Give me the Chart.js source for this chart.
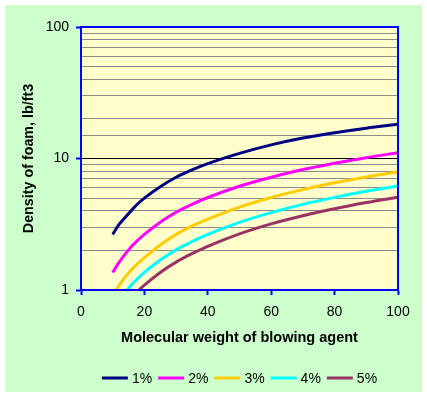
<!DOCTYPE html>
<html><head><meta charset="utf-8">
<script src="https://cdn.jsdelivr.net/npm/chart.js@4.4.1/dist/chart.umd.min.js"></script>
<style>html,body{margin:0;padding:0;background:#fff;overflow:hidden}#wrap{width:427px;height:396px}</style>
</head><body><div id="wrap"><canvas id="c" width="427" height="396"></canvas></div>
<script>
// ---- data ----
const seriesLabels = ['1%', '2%', '3%', '4%', '5%'];
const mw1 = [10, 12, 14, 16, 18, 20, 25, 30, 35, 40, 50, 60, 70, 80, 90, 100];
const dens1 = [2.65, 3.15, 3.58, 4.05, 4.55, 5.0, 6.1, 7.2, 8.2, 9.15, 10.95, 12.7, 14.3, 15.7, 17.0, 18.2];
const mw2 = [10, 12, 14, 16, 18, 20, 25, 30, 35, 40, 50, 60, 70, 80, 90, 100];
const dens2 = [1.36, 1.62, 1.88, 2.15, 2.4, 2.65, 3.28, 3.9, 4.48, 5.05, 6.15, 7.2, 8.25, 9.2, 10.15, 11.05];
const mw3 = [11.1, 12, 14, 16, 18, 20, 25, 30, 35, 40, 50, 60, 70, 80, 90, 100];
const dens3 = [1.0, 1.08, 1.26, 1.43, 1.6, 1.76, 2.2, 2.65, 3.06, 3.46, 4.27, 5.05, 5.8, 6.53, 7.23, 7.92];
const mw4 = [14.6, 16, 18, 20, 25, 30, 35, 40, 50, 60, 70, 80, 90, 100];
const dens4 = [1.0, 1.1, 1.23, 1.36, 1.69, 2.02, 2.33, 2.65, 3.27, 3.88, 4.48, 5.06, 5.63, 6.17];
const mw5 = [18.3, 20, 25, 30, 35, 40, 50, 60, 70, 80, 90, 100];
const dens5 = [1.0, 1.09, 1.36, 1.63, 1.89, 2.15, 2.67, 3.18, 3.67, 4.15, 4.62, 5.08];
const xTickStep = 20;
const yMajorTicks = [1, 10, 100];

// ---- styles ----
const seriesColors = ['#000080', '#FF00FF', '#FFCC00', '#00FFFF', '#993366'];
const FAMILY = '"Liberation Sans", Arial, Helvetica, sans-serif';
const AXIS_BLUE = '#0000FF';

const mwSets = [mw1, mw2, mw3, mw4, mw5];
const densSets = [dens1, dens2, dens3, dens4, dens5];

const isMajor = v => yMajorTicks.some(m => Math.abs(m - v) < 1e-9);

const decorPlugin = {
  id: 'decor',
  beforeDraw(chart) {
    const {ctx, chartArea: a} = chart;
    ctx.save();
    ctx.fillStyle = '#FFFFFF';
    ctx.fillRect(0, 0, chart.width, chart.height);
    ctx.fillStyle = '#CCFFCC';
    ctx.fillRect(5, 5, 417, 387);
    ctx.fillStyle = '#FFFFCC';
    ctx.fillRect(a.left, a.top, a.right - a.left, a.bottom - a.top);
    ctx.restore();
  },
  afterDatasetsDraw(chart) {
    const {ctx, chartArea: a} = chart;
    ctx.save();
    ctx.strokeStyle = AXIS_BLUE;
    ctx.lineWidth = 2;
    ctx.strokeRect(a.left, a.top, a.right - a.left, a.bottom - a.top);
    ctx.restore();
  },
  afterDraw(chart) {
    const {ctx, chartArea: a} = chart;
    const ds = chart.data.datasets;
    ctx.save();
    ctx.font = '14px ' + FAMILY;
    ctx.textBaseline = 'middle';
    ctx.textAlign = 'left';
    const lineLen = 26, gapText = 4, gapItem = 6;
    const widths = ds.map(d => ctx.measureText(d.label).width);
    const total = widths.reduce((s, w) => s + lineLen + gapText + w, 0) + gapItem * (ds.length - 1);
    let x = (a.left + a.right) / 2 - total / 2;
    const y = 378;
    ds.forEach((d, i) => {
      ctx.strokeStyle = d.borderColor;
      ctx.lineWidth = 3;
      ctx.beginPath();
      ctx.moveTo(x, y);
      ctx.lineTo(x + lineLen, y);
      ctx.stroke();
      ctx.fillStyle = '#000';
      ctx.fillText(d.label, x + lineLen + gapText, y + 1);
      x += lineLen + gapText + widths[i] + gapItem;
    });
    ctx.restore();
  }
};

new Chart(document.getElementById('c'), {
  type: 'line',
  data: {
    datasets: seriesLabels.map((lab, i) => ({
      label: lab,
      data: mwSets[i].map((m, j) => ({x: m, y: densSets[i][j]})),
      borderColor: seriesColors[i],
      backgroundColor: seriesColors[i],
      borderWidth: 3,
      pointRadius: 0,
      fill: false,
      cubicInterpolationMode: 'monotone'
    }))
  },
  options: {
    responsive: false,
    animation: false,
    devicePixelRatio: 1,
    layout: {padding: {left: 5, top: 27, right: 29, bottom: 46}},
    plugins: {legend: {display: false}, tooltip: {enabled: false}},
    scales: {
      x: {
        type: 'linear', min: 0, max: 100,
        ticks: {stepSize: xTickStep, color: '#000', font: {family: FAMILY, size: 14}, padding: 9, maxRotation: 0},
        grid: {drawOnChartArea: false, drawTicks: true, tickLength: 5, tickColor: AXIS_BLUE, tickWidth: 2},
        border: {color: AXIS_BLUE, width: 2},
        title: {display: true, text: 'Molecular weight of blowing agent', color: '#000',
                font: {family: FAMILY, size: 14.5, weight: 'bold'}, padding: {top: 0, bottom: 3}},
        afterFit(s) { s.height = 60; }
      },
      y: {
        type: 'logarithmic', min: 1, max: 100,
        ticks: {autoSkip: false, color: '#000', font: {family: FAMILY, size: 14}, padding: 7,
                callback: v => isMajor(v) ? String(Math.round(v)) : ''},
        grid: {
          color: c => { const v = c.tick && c.tick.value; if (isMajor(v)) return Math.abs(v - 10) < 1e-9 ? '#000000' : 'rgba(0,0,0,0)'; return '#8C8C8C'; },
          lineWidth: 1,
          tickLength: 5,
          tickWidth: 2,
          tickColor: c => isMajor(c.tick && c.tick.value) ? AXIS_BLUE : 'rgba(0,0,0,0)'
        },
        border: {color: AXIS_BLUE, width: 2},
        title: {display: true, text: 'Density of foam, lb/ft3', color: '#000',
                font: {family: FAMILY, size: 14.3, weight: 'bold'}, padding: {top: 15, bottom: 0}},
        afterFit(s) { s.width = 76; }
      }
    }
  },
  plugins: [decorPlugin]
});
</script>
</body></html>
